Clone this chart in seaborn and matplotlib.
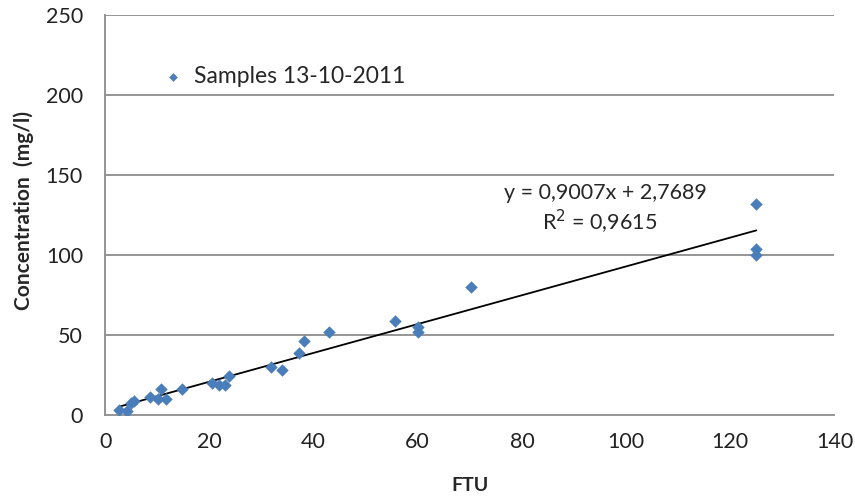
import numpy as np
import pandas as pd
import matplotlib
matplotlib.use('Agg')
import matplotlib.pyplot as plt
import seaborn as sns

# values
ftu = [2.7, 4.2, 5.0, 5.6, 8.6, 10.2, 10.7, 11.7, 14.8, 20.5, 21.8, 23.0, 23.8,
       31.8, 33.9, 37.2, 38.2, 42.9, 55.6, 60.0, 60.0, 70.3, 125.0, 125.0, 125.0]
conc = [3.1, 2.5, 7.5, 8.8, 11.2, 10.0, 16.3, 10.0, 16.3, 20.0, 18.8, 18.8, 24.4,
        30.0, 28.0, 38.8, 46.5, 51.9, 58.8, 55.0, 52.0, 80.0, 131.9, 103.8, 100.0]
slope = 0.9007
intercept = 2.7689
r2_text = "0,9615"
series_name = "Samples 13-10-2011"
x_ticks = [0, 20, 40, 60, 80, 100, 120, 140]
y_ticks = [0, 50, 100, 150, 200, 250]

df = pd.DataFrame({'FTU': ftu, 'Concentration': conc})

sns.set_style('white')
plt.rcParams['font.family'] = ['Lato', 'DejaVu Sans']

fig = plt.figure(figsize=(8.55, 4.97), dpi=100)
ax = fig.add_axes([0.123, 0.165, 0.853, 0.805])

for v in y_ticks[1:]:
    ax.axhline(v, color='#8c8c8c', lw=1.3, zorder=0)

sns.scatterplot(data=df, x='FTU', y='Concentration', marker='D', s=40,
                color='#4a7ebb', edgecolor='#4a7ebb', linewidth=0, ax=ax,
                label=series_name, zorder=3)

xl = np.array([min(ftu), max(ftu)])
sns.lineplot(x=xl, y=slope * xl + intercept, color='black', lw=1.3, ax=ax,
             zorder=2, legend=False)

ax.set_xlim(0, 140)
ax.set_ylim(0, 250)
ax.set_xticks(x_ticks)
ax.set_yticks(y_ticks)
ax.tick_params(axis='both', labelsize=15.5, length=0, colors='#222222')
ax.tick_params(axis='x', pad=12)
ax.tick_params(axis='y', pad=16)
for s in ['top', 'right']:
    ax.spines[s].set_visible(False)
for s in ['left', 'bottom']:
    ax.spines[s].set_color('#8c8c8c')
    ax.spines[s].set_linewidth(1.3)

ax.set_xlabel('FTU', fontsize=14, fontweight='bold', labelpad=18)
ax.set_ylabel('Concentration  (mg/l)', fontsize=15, fontweight='bold', labelpad=8)
ax.yaxis.set_label_coords(-0.098, 0.51)

ax.text(96, 139, "y = 0,9007x + 2,7689", fontsize=15.5, ha='center', va='center')
ax.text(95, 120.5, "R$^2$ = " + r2_text, fontsize=15.5, ha='center', va='center')

leg = ax.legend(loc='center left', bbox_to_anchor=(0.065, 0.845), frameon=False,
                fontsize=16.5, handletextpad=0.4, markerscale=0.7,
                borderaxespad=0, handlelength=1.0)

fig.savefig('out.png', dpi=100)
